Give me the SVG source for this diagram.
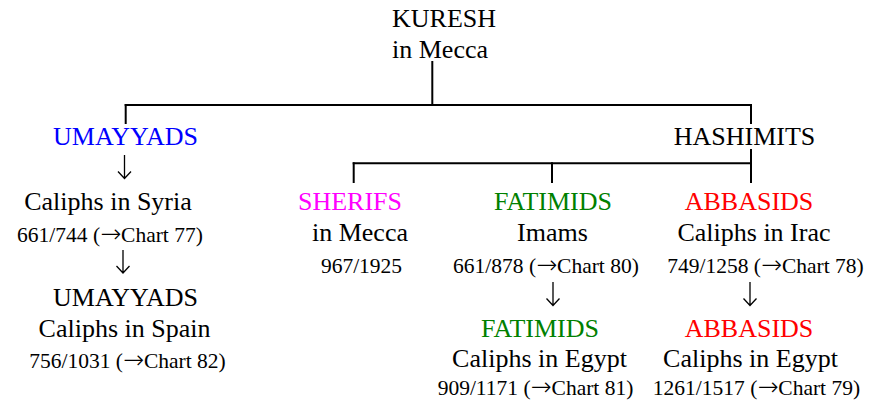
<svg xmlns="http://www.w3.org/2000/svg" width="886" height="404" viewBox="0 0 886 404">
<style>
text{font-family:'Liberation Serif','Times New Roman',Times,serif;fill:#000;text-anchor:middle}
.l{font-size:26px}
.s{font-size:21.5px}
.ar{font-family:'DejaVu Sans ExtraLight','DejaVu Sans',sans-serif;font-weight:200;font-size:25px}
.blue{fill:#0000ff}.mag{fill:#ff00ff}.grn{fill:#008000}.red{fill:#ff0000}
.c line{stroke:#000;stroke-width:2}
.c path{stroke:#000;stroke-width:1.3;fill:none}
</style>
<rect width="886" height="404" fill="#fff"/>
<g class="c" id="connectors">
<line x1="432.3" y1="61" x2="432.3" y2="105"/>
<line x1="124.7" y1="105" x2="752" y2="105"/>
<line x1="125.7" y1="104" x2="125.7" y2="124"/>
<line x1="751" y1="104" x2="751" y2="124"/>
<line x1="751" y1="149" x2="751" y2="183"/>
<line x1="352.7" y1="163.3" x2="752" y2="163.3"/>
<line x1="353.7" y1="162.3" x2="353.7" y2="183"/>
<line x1="552" y1="162.3" x2="552" y2="183"/>
<path d="M124.5 155V178.5M118 171.5L124.5 178.5L131 171.5"/>
<path d="M123 250V273M116.5 266L123 273L129.5 266"/>
<path d="M553 282V305.5M546.5 298.5L553 305.5L559.5 298.5"/>
<path d="M750 282V305.5M743.5 298.5L750 305.5L756.5 298.5"/>
</g>
<g id="kuresh"><text class="l" x="392" y="27" style="text-anchor:start">KURESH</text><text class="l" x="392" y="58" style="text-anchor:start">in Mecca</text></g>
<g id="umayyads"><text class="l blue" x="125.5" y="145">UMAYYADS</text></g>
<g id="hashimits"><text class="l" x="744.5" y="145">HASHIMITS</text></g>
<g id="umayyads-syria"><text class="l" x="108" y="210">Caliphs in Syria</text><text class="s" x="110" y="242">661/744 (<tspan class="ar">→</tspan>Chart 77)</text></g>
<g id="umayyads-spain"><text class="l" x="125.5" y="306">UMAYYADS</text><text class="l" x="124.5" y="337">Caliphs in Spain</text><text class="s" x="127.5" y="368">756/1031 (<tspan class="ar">→</tspan>Chart 82)</text></g>
<g id="sherifs"><text class="l mag" x="350" y="210">SHERIFS</text><text class="l" x="360" y="241">in Mecca</text><text class="s" x="361.5" y="273">967/1925</text></g>
<g id="fatimids-imams"><text class="l grn" x="553" y="210">FATIMIDS</text><text class="l" x="552.5" y="241">Imams</text><text class="s" x="546" y="273">661/878 (<tspan class="ar">→</tspan>Chart 80)</text></g>
<g id="fatimids-egypt"><text class="l grn" x="540" y="337">FATIMIDS</text><text class="l" x="539.5" y="367">Caliphs in Egypt</text><text class="s" x="535.5" y="395">909/1171 (<tspan class="ar">→</tspan>Chart 81)</text></g>
<g id="abbasids-irac"><text class="l red" x="749" y="210">ABBASIDS</text><text class="l" x="754" y="241">Caliphs in Irac</text><text class="s" x="765.5" y="273">749/1258 (<tspan class="ar">→</tspan>Chart 78)</text></g>
<g id="abbasids-egypt"><text class="l red" x="749" y="337">ABBASIDS</text><text class="l" x="750.5" y="367">Caliphs in Egypt</text><text class="s" x="756.5" y="395">1261/1517 (<tspan class="ar">→</tspan>Chart 79)</text></g>
</svg>
